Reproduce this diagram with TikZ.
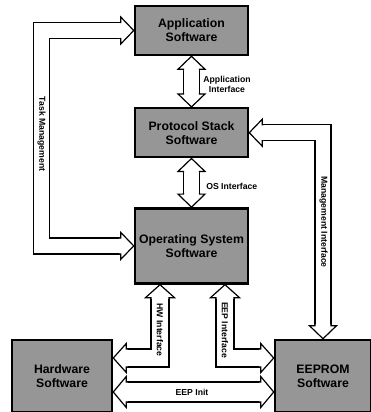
\documentclass[tikz,border=0pt]{standalone}
\usepackage{fontspec}
\setmainfont{Liberation Sans}
\usepackage{tikz}
\usetikzlibrary{calc,positioning}
\definecolor{swgray}{RGB}{150,150,150}
\tikzstyle{swbox} = [rectangle, draw=black, line width=1.9pt, fill=swgray, minimum width=84.75pt, text centered, align=center, inner sep=0pt, font=\fontsize{9.2}{10.5}\selectfont\bfseries]
\tikzstyle{lbl} = [inner sep=0pt, align=center, font=\fontsize{6.5}{7.5}\selectfont\bfseries]
\tikzset{
  pipe/.style={line width=0.9pt, double=white, double distance=#1},
  pics/fathead/.style={code={
    \filldraw[fill=white, line width=0.9pt, line join=miter]
      (-14,#1) -- (-13,#1) -- (-13,#1+5.5) -- (0,0) -- (-13,-#1-5.5) -- (-13,-#1) -- (-14,-#1);
  }}
}

\begin{document}
\begin{tikzpicture}[x=0.75pt, y=-0.75pt]
\useasboundingbox (0,0) rectangle (371,412);

% Application Software
\node (app) [swbox, minimum height=36.75pt] at (191.5,30.5) {Application\\Software};

% Protocol Stack Software
\node (proto) [swbox, minimum height=36.75pt, below=38pt of app] {Protocol Stack\\Software};

% Operating System Software
\node (os) [swbox, minimum height=56.25pt, below=36.5pt of proto] {Operating System\\Software};

% Hardware Software
\node (hw) [swbox, minimum width=75pt, minimum height=54pt] at (62,376) {Hardware\\Software};

% EEPROM Software
\node (eeprom) [swbox, minimum width=72pt, minimum height=54pt] at (323,376) {EEPROM\\Software};

% Application Interface
\draw[pipe=11.1pt] ($(app.south)+(0,13.5)$) -- ($(proto.north)+(0,-13.5)$);
\pic[rotate=90] at (app.south) {fathead=8};
\pic[rotate=-90] at (proto.north) {fathead=8};

% OS Interface
\draw[pipe=11.1pt] ($(proto.south)+(0,13.5)$) -- ($(os.north)+(0,-13.5)$);
\pic[rotate=90] at (proto.south) {fathead=8};
\pic[rotate=-90] at (os.north) {fathead=8};

% Task Management
\coordinate (tmbend) at (41.5,0);
\draw[pipe=11.1pt] ($(app.west)+(-13.5,0)$) -| (tmbend |- os.west) -- ($(os.west)+(-13.5,0)$);
\pic at (app.west) {fathead=8};
\pic at (os.west) {fathead=8};

% Management Interface
\draw[pipe=11.1pt] ($(proto.east)+(13.5,0)$) -| ($(eeprom.north)+(0,-13.5)$);
\pic[rotate=180] at (proto.east) {fathead=8};
\pic[rotate=-90] at (eeprom.north) {fathead=8};

% HW Interface
\draw[pipe=12.6pt] ($(os.south)+(-31.5,13.5)$) |- ($(hw.east)+(13.5,-18)$);
\pic[rotate=90] at ($(os.south)+(-31.5,0)$) {fathead=9};
\pic[rotate=180] at ($(hw.east)+(0,-18)$) {fathead=9};

% EEP Interface
\draw[pipe=12.6pt] ($(os.south)+(33.5,13.5)$) |- ($(eeprom.west)+(-13.5,-18)$);
\pic[rotate=90] at ($(os.south)+(33.5,0)$) {fathead=9};
\pic at ($(eeprom.west)+(0,-18)$) {fathead=9};

% EEP Init
\draw[pipe=14.1pt] ($(hw.east)+(13.5,16)$) -- ($(eeprom.west)+(-13.5,16)$);
\pic[rotate=180] at ($(hw.east)+(0,16)$) {fathead=10};
\pic at ($(eeprom.west)+(0,16)$) {fathead=10};

% labels
\node (appif) [lbl] at (227,84) {Application\\Interface};
\node (osif) [lbl, anchor=west] at (206,186) {OS Interface};
\node (taskmg) [lbl, rotate=-90] at (41.5,134) {Task Management};
\node (mgmtif) [lbl, rotate=-90] at (323.5,222) {Management Interface};
\node (hwif) [lbl, rotate=-90] at (160,330) {HW Interface};
\node (eepif) [lbl, rotate=-90] at (225,330) {EEP Interface};
\node (eepinit) [lbl] at (192,392) {EEP Init};

\end{tikzpicture}
\end{document}
